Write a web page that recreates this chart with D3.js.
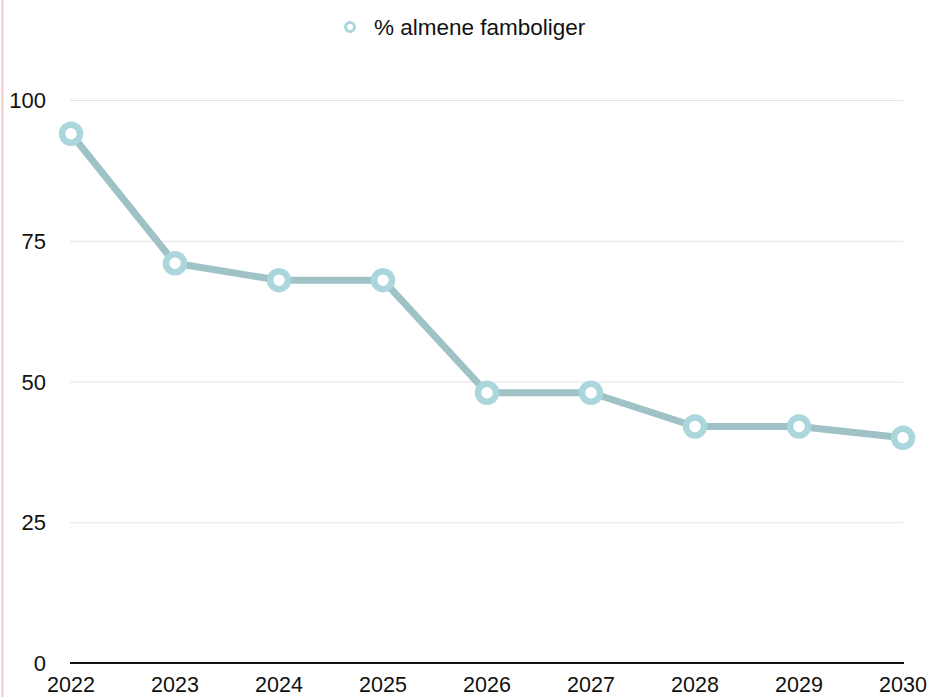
<!DOCTYPE html>
<html><head><meta charset="utf-8">
<script src="https://cdn.jsdelivr.net/npm/d3@7/dist/d3.min.js"></script>
<style>
html,body{margin:0;padding:0;background:#fff;}
svg{display:block;font-family:"Liberation Sans",Arial,Helvetica,sans-serif;}
</style></head>
<body>
<svg id="chart" width="931" height="697"></svg>
<script>
const years = ["2022","2023","2024","2025","2026","2027","2028","2029","2030"];
const values = [94, 71, 68, 68, 48, 48, 42, 42, 40];
const yTicks = [0, 25, 50, 75, 100];
const seriesName = "% almene famboliger";

const svg = d3.select("#chart");
const W = 931, H = 697;

// left pink border line
svg.append("line").attr("x1", 2.5).attr("x2", 2.5).attr("y1", 0).attr("y2", H)
  .attr("stroke", "#f2cccc").attr("stroke-width", 2);

const x = d3.scalePoint().domain(years).range([71, 903]);
const y = d3.scaleLinear().domain([0, 100]).range([663, 100]);

// grid
svg.append("g").selectAll("line").data(yTicks.filter(d => d > 0)).join("line")
  .attr("x1", 70).attr("x2", 903)
  .attr("y1", d => y(d) + 0.5).attr("y2", d => y(d) + 0.5)
  .attr("stroke", "#e3e3e3").attr("stroke-width", 1);

// baseline
svg.append("line").attr("x1", 70).attr("x2", 904)
  .attr("y1", y(0)).attr("y2", y(0))
  .attr("stroke", "#111").attr("stroke-width", 2);

// y labels
svg.append("g").selectAll("text").data(yTicks).join("text")
  .attr("x", 46).attr("y", d => y(d) + 8)
  .attr("text-anchor", "end").attr("font-size", 22).attr("fill", "#111")
  .text(d => d);

// x labels
svg.append("g").selectAll("text").data(years).join("text")
  .attr("x", d => x(d)).attr("y", 692)
  .attr("text-anchor", "middle").attr("font-size", 21.5).attr("fill", "#111")
  .text(d => d);

const data = years.map((yr, i) => ({yr, v: values[i]}));

svg.append("path").datum(data)
  .attr("fill", "none").attr("stroke", "#9fc2c6").attr("stroke-width", 7)
  .attr("stroke-linejoin", "round")
  .attr("d", d3.line().x(d => x(d.yr)).y(d => y(d.v)));

svg.append("g").selectAll("circle").data(data).join("circle")
  .attr("cx", d => x(d.yr)).attr("cy", d => y(d.v)).attr("r", 9)
  .attr("fill", "#fff").attr("stroke", "#abd6db").attr("stroke-width", 6.5);

// legend
const lg = svg.append("g");
lg.append("circle").attr("cx", 350).attr("cy", 27).attr("r", 4.5)
  .attr("fill", "#fff").attr("stroke", "#abd6db").attr("stroke-width", 3);
lg.append("text").attr("x", 374).attr("y", 35).attr("font-size", 22.5).attr("fill", "#111")
  .text(seriesName);
</script>
</body></html>
